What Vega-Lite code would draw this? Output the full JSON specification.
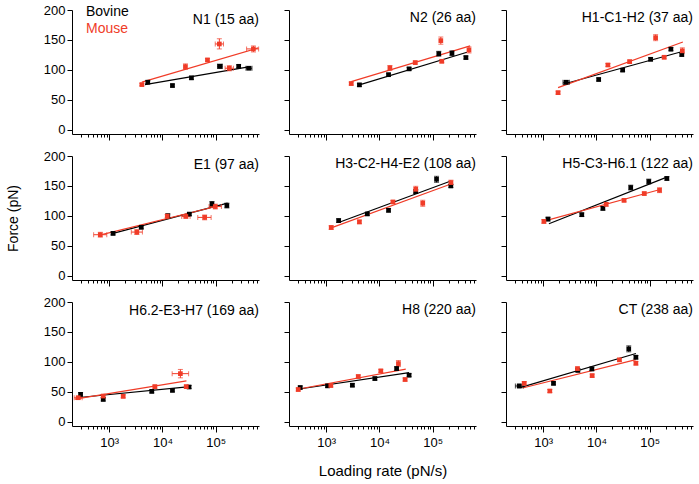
{
"$schema":"https://vega.github.io/schema/vega-lite/v6.json",
"padding":{"left":6,"top":4,"right":5,"bottom":5},
"datasets":{
"fits":[
{"p":"N1","s":"Bovine","x":4700,"f":75.5},{"p":"N1","s":"Bovine","x":440000,"f":105.5},{"p":"N1","s":"Mouse","x":4100,"f":79.5},{"p":"N1","s":"Mouse","x":630000,"f":136.7},
{"p":"N2","s":"Bovine","x":4200,"f":75},{"p":"N2","s":"Bovine","x":440000,"f":129.4},{"p":"N2","s":"Mouse","x":2950,"f":80.5},{"p":"N2","s":"Mouse","x":505000,"f":140},
{"p":"H1","s":"Bovine","x":2350,"f":76},{"p":"H1","s":"Bovine","x":410000,"f":130.7},{"p":"H1","s":"Mouse","x":1900,"f":70.4},{"p":"H1","s":"Mouse","x":420000,"f":146.5},
{"p":"E1","s":"Bovine","x":1180,"f":70.8},{"p":"E1","s":"Bovine","x":167000,"f":121.2},{"p":"E1","s":"Mouse","x":634,"f":67.4},{"p":"E1","s":"Mouse","x":105000,"f":116.1},
{"p":"H3","s":"Bovine","x":1710,"f":88.9},{"p":"H3","s":"Bovine","x":219000,"f":158.3},{"p":"H3","s":"Mouse","x":1240,"f":80},{"p":"H3","s":"Mouse","x":220000,"f":153.3},
{"p":"H5","s":"Bovine","x":1280,"f":86.8},{"p":"H5","s":"Bovine","x":210000,"f":164.7},{"p":"H5","s":"Mouse","x":990,"f":90.8},{"p":"H5","s":"Mouse","x":157000,"f":144},
{"p":"H6","s":"Bovine","x":244,"f":40.2},{"p":"H6","s":"Bovine","x":32500,"f":58.7},{"p":"H6","s":"Mouse","x":227,"f":38},{"p":"H6","s":"Mouse","x":28200,"f":68.2},
{"p":"H8","s":"Bovine","x":290,"f":54.4},{"p":"H8","s":"Bovine","x":36000,"f":82.2},{"p":"H8","s":"Mouse","x":290,"f":54.4},{"p":"H8","s":"Mouse","x":31200,"f":87.8},
{"p":"CT","s":"Bovine","x":381,"f":57.5},{"p":"CT","s":"Bovine","x":55000,"f":114},{"p":"CT","s":"Mouse","x":410,"f":56.4},{"p":"CT","s":"Mouse","x":55000,"f":103.9}
],
"pts":[
{"p":"N1","s":"Bovine","x":5300,"f":79.5,"flo":77,"fhi":82},
{"p":"N1","s":"Bovine","x":15400,"f":73.9,"flo":71.5,"fhi":76.3},
{"p":"N1","s":"Bovine","x":35000,"f":86.7,"flo":84,"fhi":89.4},
{"p":"N1","s":"Bovine","x":120000,"f":106,"flo":102.5,"fhi":109.5,"xlo":108000,"xhi":133000},
{"p":"N1","s":"Bovine","x":270000,"f":106,"flo":103.5,"fhi":108.5},
{"p":"N1","s":"Bovine","x":420000,"f":102.8,"flo":100.5,"fhi":105,"xlo":370000,"xhi":480000},
{"p":"N1","s":"Mouse","x":4100,"f":75.5,"flo":73.5,"fhi":77.5},
{"p":"N1","s":"Mouse","x":27000,"f":105.5,"flo":101,"fhi":110},
{"p":"N1","s":"Mouse","x":70000,"f":116.7,"flo":114.5,"fhi":119},
{"p":"N1","s":"Mouse","x":117000,"f":143.3,"flo":135,"fhi":152,"xlo":98000,"xhi":140000},
{"p":"N1","s":"Mouse","x":180000,"f":102.8,"flo":98.5,"fhi":107,"xlo":150000,"xhi":215000},
{"p":"N1","s":"Mouse","x":510000,"f":135,"flo":130,"fhi":140,"xlo":380000,"xhi":640000},
{"p":"N2","s":"Bovine","x":4200,"f":75,"flo":72.5,"fhi":77.5},
{"p":"N2","s":"Bovine","x":14800,"f":92,"flo":89.5,"fhi":94.5},
{"p":"N2","s":"Bovine","x":36000,"f":101.7,"flo":99.2,"fhi":104.2},
{"p":"N2","s":"Bovine","x":130000,"f":127,"flo":123,"fhi":131},
{"p":"N2","s":"Bovine","x":230000,"f":127.8,"flo":123.8,"fhi":131.8},
{"p":"N2","s":"Bovine","x":420000,"f":120.6,"flo":118.1,"fhi":123.1},
{"p":"N2","s":"Mouse","x":2950,"f":77.2,"flo":74.7,"fhi":79.7},
{"p":"N2","s":"Mouse","x":15700,"f":103.3,"flo":99.3,"fhi":107.3},
{"p":"N2","s":"Mouse","x":47000,"f":112.2,"flo":109.7,"fhi":114.7},
{"p":"N2","s":"Mouse","x":142000,"f":148.9,"flo":142.9,"fhi":154.9},
{"p":"N2","s":"Mouse","x":148000,"f":114.4,"flo":111.9,"fhi":116.9},
{"p":"N2","s":"Mouse","x":480000,"f":133.3,"flo":128.3,"fhi":138.3},
{"p":"H1","s":"Bovine","x":2700,"f":79.4,"flo":76.4,"fhi":82.4,"xlo":2350,"xhi":3100},
{"p":"H1","s":"Bovine","x":11000,"f":84,"flo":81.5,"fhi":86.5},
{"p":"H1","s":"Bovine","x":31000,"f":99.7,"flo":97.2,"fhi":102.2},
{"p":"H1","s":"Bovine","x":104000,"f":117.7,"flo":115.2,"fhi":120.2},
{"p":"H1","s":"Bovine","x":250000,"f":134.6,"flo":132.1,"fhi":137.1},
{"p":"H1","s":"Bovine","x":400000,"f":125.6,"flo":123.1,"fhi":128.1},
{"p":"H1","s":"Mouse","x":1900,"f":62,"flo":59.5,"fhi":64.5},
{"p":"H1","s":"Mouse","x":16400,"f":108.2,"flo":105.7,"fhi":110.7},
{"p":"H1","s":"Mouse","x":42000,"f":113.8,"flo":111.3,"fhi":116.3},
{"p":"H1","s":"Mouse","x":129000,"f":153.8,"flo":148.8,"fhi":158.8},
{"p":"H1","s":"Mouse","x":187000,"f":121.1,"flo":118.6,"fhi":123.6},
{"p":"H1","s":"Mouse","x":410000,"f":131.8,"flo":126.8,"fhi":136.8},
{"p":"E1","s":"Bovine","x":1180,"f":70.8,"flo":68.3,"fhi":73.3},
{"p":"E1","s":"Bovine","x":4000,"f":81,"flo":78.5,"fhi":83.5},
{"p":"E1","s":"Bovine","x":12600,"f":100.3,"flo":97.3,"fhi":103.3},
{"p":"E1","s":"Bovine","x":32000,"f":103,"flo":100.5,"fhi":105.5},
{"p":"E1","s":"Bovine","x":85000,"f":120,"flo":116,"fhi":124},
{"p":"E1","s":"Bovine","x":162000,"f":117.3,"flo":113.3,"fhi":121.3},
{"p":"E1","s":"Mouse","x":680,"f":68.6,"flo":64.6,"fhi":72.6,"xlo":510,"xhi":900},
{"p":"E1","s":"Mouse","x":3300,"f":73,"flo":69,"fhi":77,"xlo":2600,"xhi":4200},
{"p":"E1","s":"Mouse","x":12300,"f":99.7,"flo":97.2,"fhi":102.2},
{"p":"E1","s":"Mouse","x":27500,"f":99.1,"flo":96.6,"fhi":101.6,"xlo":23000,"xhi":33000},
{"p":"E1","s":"Mouse","x":62000,"f":97.5,"flo":93.5,"fhi":101.5,"xlo":46000,"xhi":82000},
{"p":"E1","s":"Mouse","x":98000,"f":115.6,"flo":111.6,"fhi":119.6,"xlo":75000,"xhi":128000},
{"p":"H3","s":"Bovine","x":1710,"f":92.2,"flo":89.2,"fhi":95.2},
{"p":"H3","s":"Bovine","x":5900,"f":103.3,"flo":100.8,"fhi":105.8},
{"p":"H3","s":"Bovine","x":14800,"f":109.4,"flo":106.4,"fhi":112.4},
{"p":"H3","s":"Bovine","x":48000,"f":140.6,"flo":137.6,"fhi":143.6},
{"p":"H3","s":"Bovine","x":118000,"f":161.1,"flo":156.1,"fhi":166.1},
{"p":"H3","s":"Bovine","x":219000,"f":150,"flo":147.5,"fhi":152.5},
{"p":"H3","s":"Mouse","x":1240,"f":80.6,"flo":77.6,"fhi":83.6},
{"p":"H3","s":"Mouse","x":4200,"f":90,"flo":87,"fhi":93},
{"p":"H3","s":"Mouse","x":17900,"f":123.3,"flo":120.8,"fhi":125.8},
{"p":"H3","s":"Mouse","x":48000,"f":144.4,"flo":139.4,"fhi":149.4},
{"p":"H3","s":"Mouse","x":65000,"f":121.1,"flo":116.1,"fhi":126.1},
{"p":"H3","s":"Mouse","x":220000,"f":155.6,"flo":151.6,"fhi":159.6},
{"p":"H5","s":"Bovine","x":1230,"f":94.7,"flo":91.7,"fhi":97.7},
{"p":"H5","s":"Bovine","x":5300,"f":102,"flo":99,"fhi":105},
{"p":"H5","s":"Bovine","x":13200,"f":112.6,"flo":109.6,"fhi":115.6},
{"p":"H5","s":"Bovine","x":44000,"f":147.3,"flo":143.3,"fhi":151.3},
{"p":"H5","s":"Bovine","x":96000,"f":157.4,"flo":153.4,"fhi":161.4},
{"p":"H5","s":"Bovine","x":210000,"f":162.5,"flo":159.5,"fhi":165.5},
{"p":"H5","s":"Mouse","x":1030,"f":90.8,"flo":87.8,"fhi":93.8},
{"p":"H5","s":"Mouse","x":15200,"f":119.3,"flo":116.3,"fhi":122.3},
{"p":"H5","s":"Mouse","x":33000,"f":126,"flo":123.5,"fhi":128.5},
{"p":"H5","s":"Mouse","x":79000,"f":137.3,"flo":134.8,"fhi":139.8},
{"p":"H5","s":"Mouse","x":153000,"f":142.9,"flo":138.9,"fhi":146.9},
{"p":"H6","s":"Bovine","x":290,"f":45.8,"flo":42.8,"fhi":48.8},
{"p":"H6","s":"Bovine","x":772,"f":37.4,"flo":34.9,"fhi":39.9},
{"p":"H6","s":"Bovine","x":6300,"f":50.8,"flo":48.3,"fhi":53.3},
{"p":"H6","s":"Bovine","x":15400,"f":52.5,"flo":50,"fhi":55},
{"p":"H6","s":"Bovine","x":31600,"f":58.1,"flo":55.6,"fhi":60.6},
{"p":"H6","s":"Mouse","x":262,"f":40.2,"flo":37.7,"fhi":42.7,"xlo":220,"xhi":310},
{"p":"H6","s":"Mouse","x":772,"f":43,"flo":40.5,"fhi":45.5},
{"p":"H6","s":"Mouse","x":1830,"f":42.5,"flo":40,"fhi":45},
{"p":"H6","s":"Mouse","x":7200,"f":58.7,"flo":56.2,"fhi":61.2},
{"p":"H6","s":"Mouse","x":21700,"f":80.4,"flo":73.4,"fhi":87.4,"xlo":15200,"xhi":31000},
{"p":"H6","s":"Mouse","x":28000,"f":58.7,"flo":56.2,"fhi":61.2},
{"p":"H8","s":"Bovine","x":325,"f":57.2,"flo":54.7,"fhi":59.7},
{"p":"H8","s":"Bovine","x":1060,"f":60,"flo":57.5,"fhi":62.5},
{"p":"H8","s":"Bovine","x":3100,"f":61.1,"flo":58.6,"fhi":63.6},
{"p":"H8","s":"Bovine","x":8200,"f":72.2,"flo":69.7,"fhi":74.7},
{"p":"H8","s":"Bovine","x":21000,"f":88.9,"flo":85.9,"fhi":91.9},
{"p":"H8","s":"Bovine","x":36000,"f":77.8,"flo":75.3,"fhi":80.3},
{"p":"H8","s":"Mouse","x":298,"f":53.9,"flo":51.4,"fhi":56.4},
{"p":"H8","s":"Mouse","x":1220,"f":60.6,"flo":58.1,"fhi":63.1},
{"p":"H8","s":"Mouse","x":4000,"f":75.6,"flo":73.1,"fhi":78.1},
{"p":"H8","s":"Mouse","x":10600,"f":85,"flo":82.5,"fhi":87.5},
{"p":"H8","s":"Mouse","x":22700,"f":97.2,"flo":92.2,"fhi":102.2},
{"p":"H8","s":"Mouse","x":30300,"f":70.6,"flo":68.1,"fhi":73.1},
{"p":"CT","s":"Bovine","x":355,"f":59.8,"flo":56.8,"fhi":62.8,"xlo":300,"xhi":420},
{"p":"CT","s":"Bovine","x":1560,"f":64.2,"flo":61.7,"fhi":66.7},
{"p":"CT","s":"Bovine","x":4470,"f":86,"flo":83,"fhi":89},
{"p":"CT","s":"Bovine","x":8200,"f":88.3,"flo":85.3,"fhi":91.3},
{"p":"CT","s":"Bovine","x":40400,"f":121.8,"flo":116.8,"fhi":126.8},
{"p":"CT","s":"Bovine","x":55000,"f":107.8,"flo":104.8,"fhi":110.8},
{"p":"CT","s":"Mouse","x":440,"f":64.2,"flo":61.7,"fhi":66.7},
{"p":"CT","s":"Mouse","x":1330,"f":51.4,"flo":48.9,"fhi":53.9},
{"p":"CT","s":"Mouse","x":4400,"f":88.8,"flo":86.3,"fhi":91.3},
{"p":"CT","s":"Mouse","x":8300,"f":77.1,"flo":74.6,"fhi":79.6},
{"p":"CT","s":"Mouse","x":27000,"f":103.4,"flo":100.9,"fhi":105.9},
{"p":"CT","s":"Mouse","x":55000,"f":97.8,"flo":94.8,"fhi":100.8}
]},
"columns":3,
"spacing":{"row":22,"column":30},
"bounds":"flush",
"resolve":{"legend":{"color":"independent"}},
"concat":[
{"width":187,"height":124,
"title":{"text":"N1 (15 aa)","offset":-22.5},
"encoding":{"x":{"field":"x","type":"quantitative","scale":{"type":"log","domain":[200,650000],"nice":false},"axis":{"title":null,"labels":false,"values":[300,400,500,600,700,800,900,1000,2000,3000,4000,5000,6000,7000,8000,9000,10000,20000,30000,40000,50000,60000,70000,80000,90000,100000,200000,300000,400000,500000,600000],"tickSize":{"condition":{"test":"datum.value==1000||datum.value==10000||datum.value==100000","value":6},"value":3}}},
"y":{"field":"f","type":"quantitative","scale":{"domain":[-7,200],"nice":false,"zero":false},"axis":{"title":null,"values":[0,50,100,150,200],"tickSize":5,"labelPadding":2}},
"color":{"field":"s","type":"nominal","scale":{"domain":["Bovine","Mouse"],"range":["#000000","#F03C28"]}}},
"layer":[
{"data":{"name":"fits"},"transform":[{"filter":"datum.p=='N1'"}],"mark":{"type":"line","strokeWidth":1.2}},
{"data":{"name":"pts"},"transform":[{"filter":"datum.p=='N1'"}],"mark":{"type":"errorbar","ticks":{"size":5},"rule":{"strokeWidth":1}},"encoding":{"y":{"field":"flo","type":"quantitative"},"y2":{"field":"fhi"}}},
{"data":{"name":"pts"},"transform":[{"filter":"datum.p=='N1' && isValid(datum.xlo)"}],"mark":{"type":"errorbar","ticks":{"size":5},"rule":{"strokeWidth":1}},"encoding":{"x":{"field":"xlo","type":"quantitative"},"x2":{"field":"xhi"}}},
{"data":{"name":"pts"},"transform":[{"filter":"datum.p=='N1'"}],"mark":{"type":"point","shape":"square","filled":true,"size":22,"opacity":1},"encoding":{"color":{"field":"s","type":"nominal","legend":{"orient":"none","legendX":0,"legendY":-5.5,"title":null,"labelFontSize":14,"symbolSize":0,"symbolStrokeWidth":0,"symbolOpacity":0,"labelOffset":0,"rowPadding":3,"padding":0,"encode":{"labels":{"update":{"fill":{"signal":"datum.value === 'Mouse' ? '#F03C28' : '#000000'"}}}}}}}}
]},
{"width":187,"height":124,
"title":{"text":"N2 (26 aa)","offset":-15.5},
"encoding":{"x":{"field":"x","type":"quantitative","scale":{"type":"log","domain":[200,650000],"nice":false},"axis":{"title":null,"labels":false,"values":[300,400,500,600,700,800,900,1000,2000,3000,4000,5000,6000,7000,8000,9000,10000,20000,30000,40000,50000,60000,70000,80000,90000,100000,200000,300000,400000,500000,600000],"tickSize":{"condition":{"test":"datum.value==1000||datum.value==10000||datum.value==100000","value":6},"value":3}}},
"y":{"field":"f","type":"quantitative","scale":{"domain":[-7,200],"nice":false,"zero":false},"axis":{"title":null,"labels":false,"values":[0,50,100,150,200],"tickSize":5}},
"color":{"field":"s","type":"nominal","scale":{"domain":["Bovine","Mouse"],"range":["#000000","#F03C28"]},"legend":null}},
"layer":[
{"data":{"name":"fits"},"transform":[{"filter":"datum.p=='N2'"}],"mark":{"type":"line","strokeWidth":1.2}},
{"data":{"name":"pts"},"transform":[{"filter":"datum.p=='N2'"}],"mark":{"type":"errorbar","ticks":{"size":5},"rule":{"strokeWidth":1}},"encoding":{"y":{"field":"flo","type":"quantitative"},"y2":{"field":"fhi"}}},
{"data":{"name":"pts"},"transform":[{"filter":"datum.p=='N2'"}],"mark":{"type":"point","shape":"square","filled":true,"size":22,"opacity":1}}
]},
{"width":187,"height":124,
"title":{"text":"H1-C1-H2 (37 aa)","offset":-15.5},
"encoding":{"x":{"field":"x","type":"quantitative","scale":{"type":"log","domain":[200,650000],"nice":false},"axis":{"title":null,"labels":false,"values":[300,400,500,600,700,800,900,1000,2000,3000,4000,5000,6000,7000,8000,9000,10000,20000,30000,40000,50000,60000,70000,80000,90000,100000,200000,300000,400000,500000,600000],"tickSize":{"condition":{"test":"datum.value==1000||datum.value==10000||datum.value==100000","value":6},"value":3}}},
"y":{"field":"f","type":"quantitative","scale":{"domain":[-7,200],"nice":false,"zero":false},"axis":{"title":null,"labels":false,"values":[0,50,100,150,200],"tickSize":5}},
"color":{"field":"s","type":"nominal","scale":{"domain":["Bovine","Mouse"],"range":["#000000","#F03C28"]},"legend":null}},
"layer":[
{"data":{"name":"fits"},"transform":[{"filter":"datum.p=='H1'"}],"mark":{"type":"line","strokeWidth":1.2}},
{"data":{"name":"pts"},"transform":[{"filter":"datum.p=='H1'"}],"mark":{"type":"errorbar","ticks":{"size":5},"rule":{"strokeWidth":1}},"encoding":{"y":{"field":"flo","type":"quantitative"},"y2":{"field":"fhi"}}},
{"data":{"name":"pts"},"transform":[{"filter":"datum.p=='H1' && isValid(datum.xlo)"}],"mark":{"type":"errorbar","ticks":{"size":5},"rule":{"strokeWidth":1}},"encoding":{"x":{"field":"xlo","type":"quantitative"},"x2":{"field":"xhi"}}},
{"data":{"name":"pts"},"transform":[{"filter":"datum.p=='H1'"}],"mark":{"type":"point","shape":"square","filled":true,"size":22,"opacity":1}}
]},
{"width":187,"height":124,
"title":{"text":"E1 (97 aa)","offset":-22},
"encoding":{"x":{"field":"x","type":"quantitative","scale":{"type":"log","domain":[200,650000],"nice":false},"axis":{"title":null,"labels":false,"values":[300,400,500,600,700,800,900,1000,2000,3000,4000,5000,6000,7000,8000,9000,10000,20000,30000,40000,50000,60000,70000,80000,90000,100000,200000,300000,400000,500000,600000],"tickSize":{"condition":{"test":"datum.value==1000||datum.value==10000||datum.value==100000","value":6},"value":3}}},
"y":{"field":"f","type":"quantitative","scale":{"domain":[-7,200],"nice":false,"zero":false},"axis":{"title":"Force (pN)","titleFontSize":14,"titlePadding":23,"values":[0,50,100,150,200],"tickSize":5,"labelPadding":2}},
"color":{"field":"s","type":"nominal","scale":{"domain":["Bovine","Mouse"],"range":["#000000","#F03C28"]},"legend":null}},
"layer":[
{"data":{"name":"fits"},"transform":[{"filter":"datum.p=='E1'"}],"mark":{"type":"line","strokeWidth":1.2}},
{"data":{"name":"pts"},"transform":[{"filter":"datum.p=='E1'"}],"mark":{"type":"errorbar","ticks":{"size":5},"rule":{"strokeWidth":1}},"encoding":{"y":{"field":"flo","type":"quantitative"},"y2":{"field":"fhi"}}},
{"data":{"name":"pts"},"transform":[{"filter":"datum.p=='E1' && isValid(datum.xlo)"}],"mark":{"type":"errorbar","ticks":{"size":5},"rule":{"strokeWidth":1}},"encoding":{"x":{"field":"xlo","type":"quantitative"},"x2":{"field":"xhi"}}},
{"data":{"name":"pts"},"transform":[{"filter":"datum.p=='E1'"}],"mark":{"type":"point","shape":"square","filled":true,"size":22,"opacity":1}}
]},
{"width":187,"height":124,
"title":{"text":"H3-C2-H4-E2 (108 aa)","offset":-15.5},
"encoding":{"x":{"field":"x","type":"quantitative","scale":{"type":"log","domain":[200,650000],"nice":false},"axis":{"title":null,"labels":false,"values":[300,400,500,600,700,800,900,1000,2000,3000,4000,5000,6000,7000,8000,9000,10000,20000,30000,40000,50000,60000,70000,80000,90000,100000,200000,300000,400000,500000,600000],"tickSize":{"condition":{"test":"datum.value==1000||datum.value==10000||datum.value==100000","value":6},"value":3}}},
"y":{"field":"f","type":"quantitative","scale":{"domain":[-7,200],"nice":false,"zero":false},"axis":{"title":null,"labels":false,"values":[0,50,100,150,200],"tickSize":5}},
"color":{"field":"s","type":"nominal","scale":{"domain":["Bovine","Mouse"],"range":["#000000","#F03C28"]},"legend":null}},
"layer":[
{"data":{"name":"fits"},"transform":[{"filter":"datum.p=='H3'"}],"mark":{"type":"line","strokeWidth":1.2}},
{"data":{"name":"pts"},"transform":[{"filter":"datum.p=='H3'"}],"mark":{"type":"errorbar","ticks":{"size":5},"rule":{"strokeWidth":1}},"encoding":{"y":{"field":"flo","type":"quantitative"},"y2":{"field":"fhi"}}},
{"data":{"name":"pts"},"transform":[{"filter":"datum.p=='H3'"}],"mark":{"type":"point","shape":"square","filled":true,"size":22,"opacity":1}}
]},
{"width":187,"height":124,
"title":{"text":"H5-C3-H6.1 (122 aa)","offset":-15.5},
"encoding":{"x":{"field":"x","type":"quantitative","scale":{"type":"log","domain":[200,650000],"nice":false},"axis":{"title":null,"labels":false,"values":[300,400,500,600,700,800,900,1000,2000,3000,4000,5000,6000,7000,8000,9000,10000,20000,30000,40000,50000,60000,70000,80000,90000,100000,200000,300000,400000,500000,600000],"tickSize":{"condition":{"test":"datum.value==1000||datum.value==10000||datum.value==100000","value":6},"value":3}}},
"y":{"field":"f","type":"quantitative","scale":{"domain":[-7,200],"nice":false,"zero":false},"axis":{"title":null,"labels":false,"values":[0,50,100,150,200],"tickSize":5}},
"color":{"field":"s","type":"nominal","scale":{"domain":["Bovine","Mouse"],"range":["#000000","#F03C28"]},"legend":null}},
"layer":[
{"data":{"name":"fits"},"transform":[{"filter":"datum.p=='H5'"}],"mark":{"type":"line","strokeWidth":1.2}},
{"data":{"name":"pts"},"transform":[{"filter":"datum.p=='H5'"}],"mark":{"type":"errorbar","ticks":{"size":5},"rule":{"strokeWidth":1}},"encoding":{"y":{"field":"flo","type":"quantitative"},"y2":{"field":"fhi"}}},
{"data":{"name":"pts"},"transform":[{"filter":"datum.p=='H5'"}],"mark":{"type":"point","shape":"square","filled":true,"size":22,"opacity":1}}
]},
{"width":187,"height":124,
"title":{"text":"H6.2-E3-H7 (169 aa)","offset":-22},
"encoding":{"x":{"field":"x","type":"quantitative","scale":{"type":"log","domain":[200,650000],"nice":false},"axis":{"title":null,"labels":true,"labelExpr":"datum.value==1000?'10³':datum.value==10000?'10⁴':datum.value==100000?'10⁵':''","labelPadding":4,"values":[300,400,500,600,700,800,900,1000,2000,3000,4000,5000,6000,7000,8000,9000,10000,20000,30000,40000,50000,60000,70000,80000,90000,100000,200000,300000,400000,500000,600000],"tickSize":{"condition":{"test":"datum.value==1000||datum.value==10000||datum.value==100000","value":6},"value":3}}},
"y":{"field":"f","type":"quantitative","scale":{"domain":[-7,200],"nice":false,"zero":false},"axis":{"title":null,"values":[0,50,100,150,200],"tickSize":5,"labelPadding":2}},
"color":{"field":"s","type":"nominal","scale":{"domain":["Bovine","Mouse"],"range":["#000000","#F03C28"]},"legend":null}},
"layer":[
{"data":{"name":"fits"},"transform":[{"filter":"datum.p=='H6'"}],"mark":{"type":"line","strokeWidth":1.2}},
{"data":{"name":"pts"},"transform":[{"filter":"datum.p=='H6'"}],"mark":{"type":"errorbar","ticks":{"size":5},"rule":{"strokeWidth":1}},"encoding":{"y":{"field":"flo","type":"quantitative"},"y2":{"field":"fhi"}}},
{"data":{"name":"pts"},"transform":[{"filter":"datum.p=='H6' && isValid(datum.xlo)"}],"mark":{"type":"errorbar","ticks":{"size":5},"rule":{"strokeWidth":1}},"encoding":{"x":{"field":"xlo","type":"quantitative"},"x2":{"field":"xhi"}}},
{"data":{"name":"pts"},"transform":[{"filter":"datum.p=='H6'"}],"mark":{"type":"point","shape":"square","filled":true,"size":22,"opacity":1}}
]},
{"width":187,"height":124,
"title":{"text":"H8 (220 aa)","offset":-15.5},
"encoding":{"x":{"field":"x","type":"quantitative","scale":{"type":"log","domain":[200,650000],"nice":false},"axis":{"title":"Loading rate (pN/s)","titleFontSize":15,"titlePadding":14,"labels":true,"labelExpr":"datum.value==1000?'10³':datum.value==10000?'10⁴':datum.value==100000?'10⁵':''","labelPadding":4,"values":[300,400,500,600,700,800,900,1000,2000,3000,4000,5000,6000,7000,8000,9000,10000,20000,30000,40000,50000,60000,70000,80000,90000,100000,200000,300000,400000,500000,600000],"tickSize":{"condition":{"test":"datum.value==1000||datum.value==10000||datum.value==100000","value":6},"value":3}}},
"y":{"field":"f","type":"quantitative","scale":{"domain":[-7,200],"nice":false,"zero":false},"axis":{"title":null,"labels":false,"values":[0,50,100,150,200],"tickSize":5}},
"color":{"field":"s","type":"nominal","scale":{"domain":["Bovine","Mouse"],"range":["#000000","#F03C28"]},"legend":null}},
"layer":[
{"data":{"name":"fits"},"transform":[{"filter":"datum.p=='H8'"}],"mark":{"type":"line","strokeWidth":1.2}},
{"data":{"name":"pts"},"transform":[{"filter":"datum.p=='H8'"}],"mark":{"type":"errorbar","ticks":{"size":5},"rule":{"strokeWidth":1}},"encoding":{"y":{"field":"flo","type":"quantitative"},"y2":{"field":"fhi"}}},
{"data":{"name":"pts"},"transform":[{"filter":"datum.p=='H8'"}],"mark":{"type":"point","shape":"square","filled":true,"size":22,"opacity":1}}
]},
{"width":187,"height":124,
"title":{"text":"CT (238 aa)","offset":-15.5},
"encoding":{"x":{"field":"x","type":"quantitative","scale":{"type":"log","domain":[200,650000],"nice":false},"axis":{"title":null,"labels":true,"labelExpr":"datum.value==1000?'10³':datum.value==10000?'10⁴':datum.value==100000?'10⁵':''","labelPadding":4,"values":[300,400,500,600,700,800,900,1000,2000,3000,4000,5000,6000,7000,8000,9000,10000,20000,30000,40000,50000,60000,70000,80000,90000,100000,200000,300000,400000,500000,600000],"tickSize":{"condition":{"test":"datum.value==1000||datum.value==10000||datum.value==100000","value":6},"value":3}}},
"y":{"field":"f","type":"quantitative","scale":{"domain":[-7,200],"nice":false,"zero":false},"axis":{"title":null,"labels":false,"values":[0,50,100,150,200],"tickSize":5}},
"color":{"field":"s","type":"nominal","scale":{"domain":["Bovine","Mouse"],"range":["#000000","#F03C28"]},"legend":null}},
"layer":[
{"data":{"name":"fits"},"transform":[{"filter":"datum.p=='CT'"}],"mark":{"type":"line","strokeWidth":1.2}},
{"data":{"name":"pts"},"transform":[{"filter":"datum.p=='CT'"}],"mark":{"type":"errorbar","ticks":{"size":5},"rule":{"strokeWidth":1}},"encoding":{"y":{"field":"flo","type":"quantitative"},"y2":{"field":"fhi"}}},
{"data":{"name":"pts"},"transform":[{"filter":"datum.p=='CT' && isValid(datum.xlo)"}],"mark":{"type":"errorbar","ticks":{"size":5},"rule":{"strokeWidth":1}},"encoding":{"x":{"field":"xlo","type":"quantitative"},"x2":{"field":"xhi"}}},
{"data":{"name":"pts"},"transform":[{"filter":"datum.p=='CT'"}],"mark":{"type":"point","shape":"square","filled":true,"size":22,"opacity":1}}
]}
],
"config":{"view":{"stroke":null},"font":"Liberation Sans",
"title":{"anchor":"end","frame":"group","orient":"top","baseline":"top","fontSize":14,"fontWeight":"normal","color":"#000000","font":"Liberation Sans"},
"axis":{"grid":false,"domainColor":"#000000","tickColor":"#000000","labelColor":"#000000","titleColor":"#000000","labelFont":"Liberation Sans","titleFont":"Liberation Sans","labelFontSize":13,"titleFontWeight":"normal","domainWidth":1,"tickWidth":1},
"legend":{"labelFont":"Liberation Sans"}}
}
